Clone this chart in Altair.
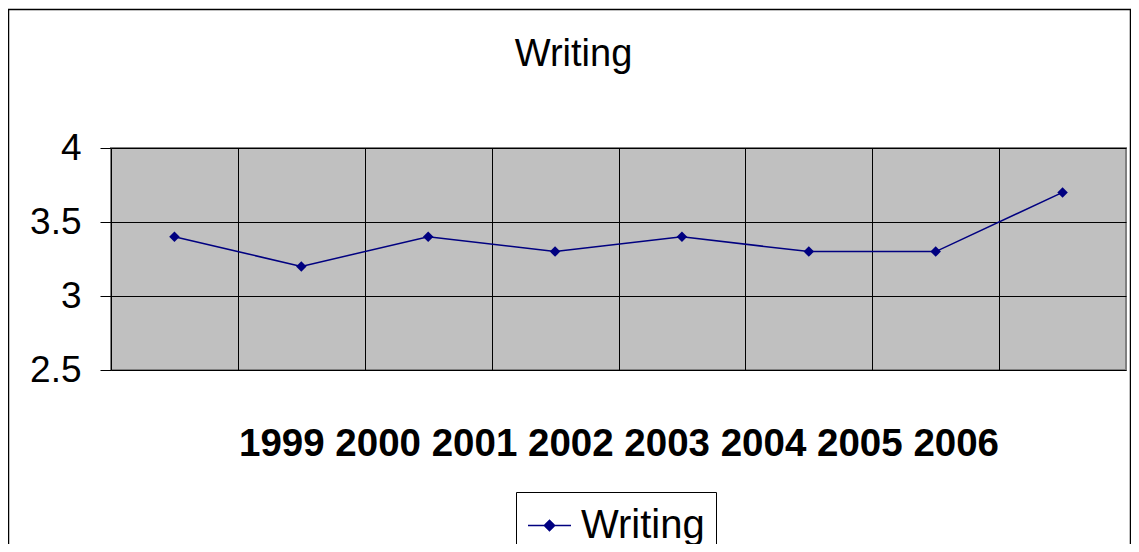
import altair as alt
import pandas as pd

years = [1999, 2000, 2001, 2002, 2003, 2004, 2005, 2006]
scores = [3.4, 3.2, 3.4, 3.3, 3.4, 3.3, 3.3, 3.7]
series_name = "Writing"
y_ticks = [2.5, 3, 3.5, 4]
col_edges = [1999.5, 2000.5, 2001.5, 2002.5, 2003.5, 2004.5, 2005.5]

df = pd.DataFrame({"year": years, "score": scores, "series": [series_name] * len(years)})

FONT = "Liberation Sans"
NAVY = "#000080"

x_enc = alt.X(
    "year:Q",
    scale=alt.Scale(domain=[1998.5, 2006.5], nice=False, zero=False),
    axis=alt.Axis(
        values=col_edges,
        labels=False,
        ticks=False,
        domain=False,
        grid=True,
        gridColor="#000000",
        gridWidth=1,
        title=" ".join(str(y) for y in years),
        titleFont=FONT,
        titleFontSize=38.5,
        titleFontWeight="bold",
        titleColor="#000000",
        titleBaseline="alphabetic",
        titleY=85,
    ),
)
y_enc = alt.Y(
    "score:Q",
    scale=alt.Scale(domain=[2.5, 4], nice=False, zero=False),
    axis=alt.Axis(
        values=y_ticks,
        format="~g",
        labelFont=FONT,
        labelFontSize=37,
        labelColor="#000000",
        labelPadding=19,
        tickSize=11,
        tickColor="#000000",
        domainColor="#000000",
        grid=True,
        gridColor="#000000",
        gridWidth=1,
        title=None,
    ),
)

base = alt.Chart(df)

line = base.mark_line(color=NAVY, strokeWidth=1.5).encode(x=x_enc, y=y_enc)

points = base.mark_point(shape="diamond", filled=True, size=110, opacity=1).encode(
    x=x_enc,
    y=y_enc,
    color=alt.Color(
        "series:N",
        scale=alt.Scale(range=[NAVY]),
        legend=alt.Legend(
            title=None,
            orient="none",
            legendX=405,
            legendY=344,
            strokeColor="#000000",
            padding=11,
            symbolType="M-1,0H1M-0.24,0L0,-0.24L0.24,0L0,0.24Z",
            symbolSize=1849,
            symbolStrokeColor=NAVY,
            symbolFillColor=NAVY,
            symbolStrokeWidth=1.5,
            labelFont=FONT,
            labelFontSize=40,
            labelColor="#000000",
            labelOffset=9,
        ),
    ),
)

frame = alt.Chart(pd.DataFrame({"a": [0]})).mark_rect(
    fillOpacity=0, stroke="#000000", strokeWidth=1.5
).encode(
    x=alt.value(-102.5), x2=alt.value(1019.5), y=alt.value(-138.5), y2=alt.value(420)
)

chart = (
    alt.layer(frame, line, points)
    .properties(
        width=1015,
        height=222,
        padding={"left": 103, "top": 140, "right": 5, "bottom": 174},
        autosize=alt.AutoSizeParams(type="none"),
        title=alt.TitleParams(
            text=series_name,
            font=FONT,
            fontSize=38,
            fontWeight="normal",
            color="#000000",
            anchor="middle",
            baseline="alphabetic",
            offset=0,
            dy=95,
            dx=-45,
        ),
    )
    .configure(background="#ffffff")
    .configure_view(fill="#C0C0C0", stroke="#808080", strokeWidth=2)
)

chart.save("out.html", embed_options={"renderer": "svg", "actions": False})
